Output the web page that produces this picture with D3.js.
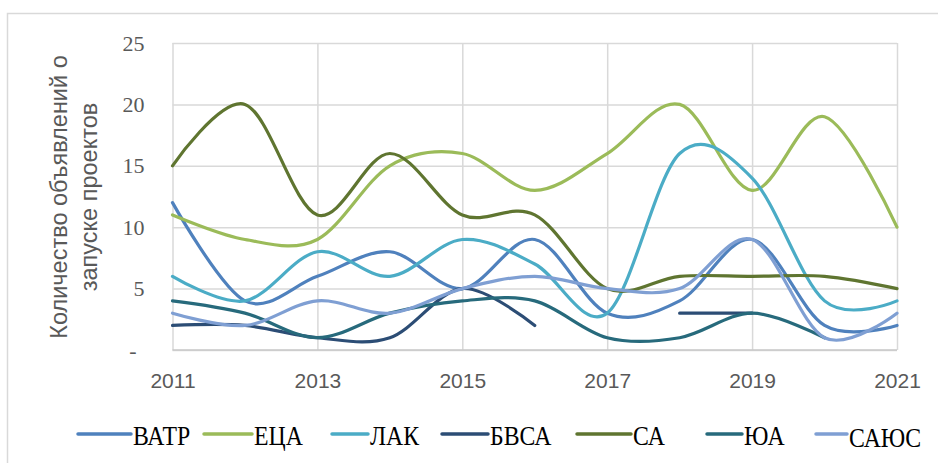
<!DOCTYPE html>
<html>
<head>
<meta charset="utf-8">
<script src="https://cdn.jsdelivr.net/npm/d3@7"></script>
<style>
  body { margin: 0; background: #fff; }
  svg { display: block; }
</style>
</head>
<body>
<div id="chart-div"></div>
<script>
// years on the x axis
const years = [2011, 2012, 2013, 2014, 2015, 2016, 2017, 2018, 2019, 2020, 2021];
const yearTicks = [2011, 2013, 2015, 2017, 2019, 2021];
const valueTicks = [0, 5, 10, 15, 20, 25];

const seriesNames = ["ВАТР", "ЕЦА", "ЛАК", "БВСА", "СА", "ЮА", "САЮС"];
const vatr = [12, 4, 6, 8, 5, 9, 3, 4, 9, 2, 2];
const eca  = [11, 9, 9, 15, 16, 13, 16, 20, 13, 19, 10];
const lak  = [6, 4, 8, 6, 9, 7, 3, 16, 14, 4, 4];
const bvsa = [2, 2, 1, 1, 5, 2, null, 3, 3, null, null];
const sa   = [15, 20, 11, 16, 11, 11, 5, 6, 6, 6, 5];
const yua  = [4, 3, 1, 3, 4, 4, 1, 1, 3, 1, null];
const sayus = [3, 2, 4, 3, 5, 6, 5, 5, 9, 1, 3];

const seriesValues = [vatr, eca, lak, bvsa, sa, yua, sayus];
const colors = ["#4F81BD", "#9BBB59", "#4BACC6", "#2C4D75", "#5F7530", "#276A7C", "#7F9FD3"];

const svgDims = { width: 938, height: 463 };

const svg = d3.select("#chart-div")
    .append("svg")
    .attr("width", svgDims.width)
    .attr("height", svgDims.height);

// outer chart border (only left and top edges fall inside the picture)
svg.append("rect")
    .attr("x", 7.5).attr("y", 13.5)
    .attr("width", 960).attr("height", 480)
    .attr("fill", "none")
    .attr("stroke", "#d9d9d9")
    .attr("stroke-width", 1.5);

const plot = { left: 172.5, right: 897, top: 43, bottom: 350 };

const x = d3.scaleLinear()
    .domain([2011, 2021])
    .range([plot.left, plot.right]);

const y = d3.scaleLinear()
    .domain([0, 25])
    .range([plot.bottom, plot.top]);

// y axis with horizontal gridlines
const yGroup = svg.append("g")
    .attr("transform", "translate(" + plot.left + ",0)")
    .call(d3.axisLeft(y)
        .tickValues(valueTicks)
        .tickSize(-(plot.right - plot.left))
        .tickPadding(28)
        .tickFormat(d => d === 0 ? "-" : d));
yGroup.select(".domain").remove();
yGroup.selectAll(".tick line").attr("stroke", "#d9d9d9").attr("stroke-width", 1.5);
yGroup.selectAll(".tick text")
    .attr("fill", "#595959")
    .style("font-family", "'Liberation Serif', 'DejaVu Serif', serif")
    .style("font-size", "22px");
yGroup.selectAll(".tick").filter(d => d === 0).select("text").attr("x", -36);

// x axis with vertical gridlines
const xGroup = svg.append("g")
    .attr("transform", "translate(0," + plot.bottom + ")")
    .call(d3.axisBottom(x)
        .tickValues(yearTicks)
        .tickSize(-(plot.bottom - plot.top))
        .tickPadding(23)
        .tickFormat(d3.format("d")));
xGroup.select(".domain").remove();
xGroup.selectAll(".tick line").attr("stroke", "#d9d9d9").attr("stroke-width", 1.5);
xGroup.selectAll(".tick text")
    .attr("fill", "#595959")
    .style("font-family", "'Liberation Sans', Arial, sans-serif")
    .style("font-size", "21px");

// bottom axis line
svg.append("line")
    .attr("x1", plot.left).attr("x2", plot.right)
    .attr("y1", y(0)).attr("y2", y(0))
    .attr("stroke", "#c9c9c9")
    .attr("stroke-width", 1.5);

// y axis title, two lines
const title = svg.append("text")
    .attr("transform", "translate(67," + 197 + ") rotate(-90)")
    .attr("text-anchor", "middle")
    .attr("fill", "#595959")
    .style("font-family", "'Liberation Sans', Arial, sans-serif")
    .style("font-size", "23.5px");
title.append("tspan").attr("x", 0).attr("dy", 0).text("Количество объявлений о");
title.append("tspan").attr("x", 0).attr("dy", 30).text("запуске проектов");

// smoothed series lines
const line = d3.line()
    .defined(d => d.v !== null)
    .x(d => x(d.year))
    .y(d => y(d.v))
    .curve(d3.curveCardinal.tension(0));

seriesValues.forEach((vals, i) => {
    const pts = years.map((yr, j) => ({ year: yr, v: vals[j] }));
    svg.append("path")
        .datum(pts)
        .attr("d", line)
        .attr("fill", "none")
        .attr("stroke", colors[i])
        .attr("stroke-width", 3.2)
        .attr("stroke-linecap", "round")
        .attr("stroke-linejoin", "round");
});

// legend (squeezed layout as in the original)
const legendX = [78, 204, 332, 442, 577, 707, 816];
const legendSample = [53, 48, 36, 46, 54, 35, 31];
const legend = svg.append("g");
seriesNames.forEach((name, i) => {
    legend.append("line")
        .attr("x1", legendX[i]).attr("x2", legendX[i] + legendSample[i])
        .attr("y1", 434).attr("y2", 434)
        .attr("stroke", colors[i])
        .attr("stroke-width", 3.5)
        .attr("stroke-linecap", "round");
    legend.append("text")
        .attr("transform", "translate(" + (legendX[i] + legendSample[i] + 2) + "," + (i === 6 ? 447 : 445) + ") scale(0.88,1)")
        .attr("fill", "#000")
        .style("font-family", "'Liberation Serif', 'DejaVu Serif', serif")
        .style("font-size", "27px")
        .text(name);
});
</script>
</body>
</html>
